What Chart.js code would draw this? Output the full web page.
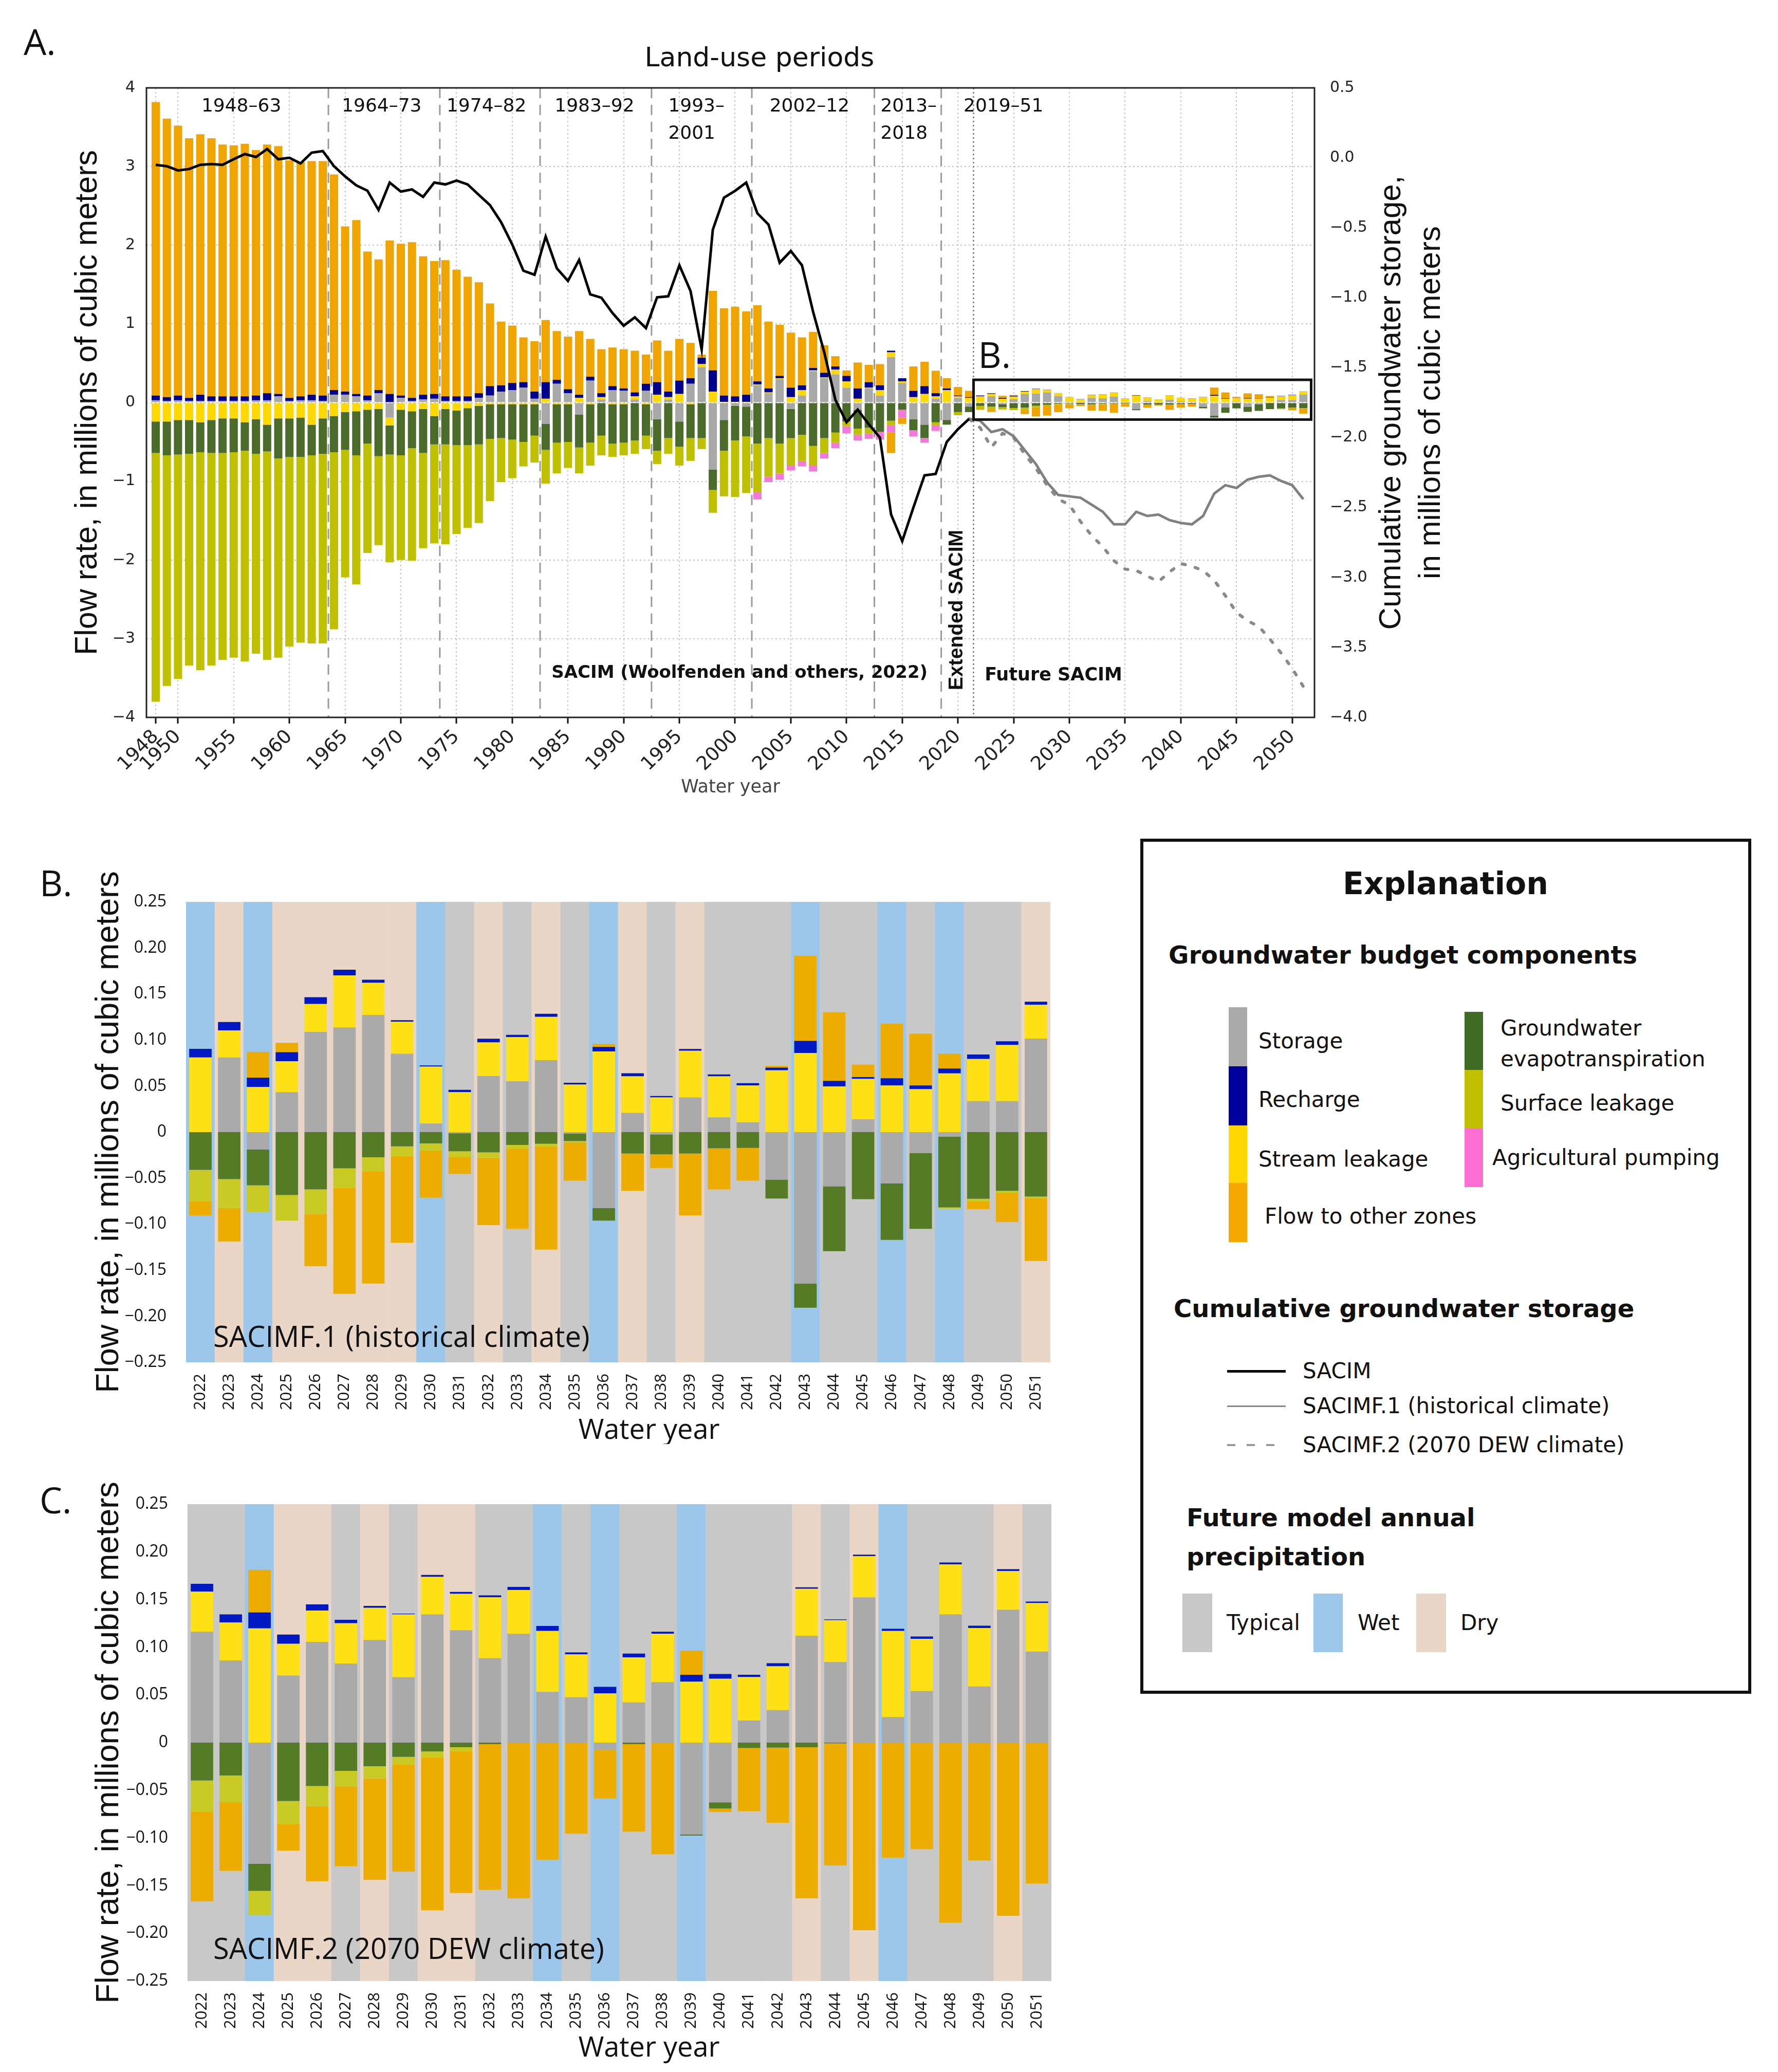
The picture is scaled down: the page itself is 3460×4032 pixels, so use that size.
<!DOCTYPE html>
<html>
<head>
<meta charset="utf-8">
<script src="https://cdn.jsdelivr.net/npm/chart.js@4.4.1/dist/chart.umd.min.js"></script>
<style>
  html, body { margin: 0; padding: 0; background: #fff; }
  #page { position: relative; width: 3460px; height: 4032px; overflow: hidden; background: #fff; }
  .wrap { position: absolute; }
  .letter { position: absolute; font-family: 'Open Sans', sans-serif; font-size: 70px; line-height: 1; color: #111; transform: translateY(-50%); }
  #legendBox { position: absolute; left: 2219px; top: 1632px; width: 1177px; height: 1652px; border: 6px solid #111; }
  .lg { position: absolute; font-family: 'DejaVu Sans', Verdana, sans-serif; font-size: 42px; line-height: 1; color: #111; white-space: nowrap; transform: translateY(-50%); }
  .lg.h { font-weight: bold; font-size: 48px; }
  .sw { position: absolute; }
</style>
</head>
<body>
<div id="page">
  <div class="letter" style="left:46px;top:80px">A.</div>
  <div class="letter" style="left:77px;top:1717px">B.</div>
  <div class="letter" style="left:77px;top:2918px">C.</div>

  <div class="wrap" style="left:0;top:0;width:2900px;height:1560px"><canvas id="chartA"></canvas></div>
  <div class="wrap" style="left:0;top:1640px;width:2100px;height:1170px"><canvas id="chartB"></canvas></div>
  <div class="wrap" style="left:0;top:2820px;width:2100px;height:1200px"><canvas id="chartC"></canvas></div>

  <div id="legendBox"></div>
  <div class="lg" style="left:2813px;top:1719px;font-size:60px;font-weight:bold;transform:translate(-50%,-50%)">Explanation</div>
  <div class="lg h" style="left:2274px;top:1858px">Groundwater budget components</div>

  <div class="sw" style="left:2391px;top:1960px;width:36px;height:115px;background:#aaaaaa"></div>
  <div class="sw" style="left:2391px;top:2075px;width:36px;height:115px;background:#00009c"></div>
  <div class="sw" style="left:2391px;top:2190px;width:36px;height:112px;background:#ffd700"></div>
  <div class="sw" style="left:2391px;top:2302px;width:36px;height:115px;background:#f5a800"></div>
  <div class="lg" style="left:2449px;top:2026px">Storage</div>
  <div class="lg" style="left:2449px;top:2140px">Recharge</div>
  <div class="lg" style="left:2449px;top:2256px">Stream leakage</div>
  <div class="lg" style="left:2461px;top:2367px">Flow to other zones</div>

  <div class="sw" style="left:2850px;top:1969px;width:36px;height:113px;background:#3f6b24"></div>
  <div class="sw" style="left:2850px;top:2082px;width:36px;height:114px;background:#c0c000"></div>
  <div class="sw" style="left:2850px;top:2196px;width:36px;height:114px;background:#ff6ed2"></div>
  <div class="lg" style="left:2920px;top:2001px">Groundwater</div>
  <div class="lg" style="left:2920px;top:2061px">evapotranspiration</div>
  <div class="lg" style="left:2920px;top:2147px">Surface leakage</div>
  <div class="lg" style="left:2904px;top:2253px">Agricultural pumping</div>

  <div class="lg h" style="left:2284px;top:2546px">Cumulative groundwater storage</div>
  <div class="sw" style="left:2388px;top:2666px;width:114px;height:5px;background:#000"></div>
  <div class="sw" style="left:2388px;top:2735px;width:114px;height:3px;background:#888"></div>
  <div class="sw" style="left:2388px;top:2810px;width:114px;height:4px;background:repeating-linear-gradient(90deg,#999 0 16px,transparent 16px 38px)"></div>
  <div class="lg" style="left:2535px;top:2668px">SACIM</div>
  <div class="lg" style="left:2535px;top:2736px">SACIMF.1 (historical climate)</div>
  <div class="lg" style="left:2535px;top:2812px">SACIMF.2 (2070 DEW climate)</div>

  <div class="lg h" style="left:2309px;top:2953px">Future model annual</div>
  <div class="lg h" style="left:2309px;top:3029px">precipitation</div>
  <div class="sw" style="left:2301px;top:3101px;width:58px;height:114px;background:#c8c8c8"></div>
  <div class="sw" style="left:2556px;top:3101px;width:57px;height:114px;background:#9ec8eb"></div>
  <div class="sw" style="left:2756px;top:3101px;width:58px;height:114px;background:#ead6c6"></div>
  <div class="lg" style="left:2387px;top:3158px">Typical</div>
  <div class="lg" style="left:2642px;top:3158px">Wet</div>
  <div class="lg" style="left:2842px;top:3158px">Dry</div>
</div>

<script>
// ---- data: panel A, SACIM 1948-2021 (millions of cubic meters) ----
const histYears = [1948, 1949, 1950, 1951, 1952, 1953, 1954, 1955, 1956, 1957, 1958, 1959, 1960, 1961, 1962, 1963,
  1964, 1965, 1966, 1967, 1968, 1969, 1970, 1971, 1972, 1973,
  1974, 1975, 1976, 1977, 1978, 1979, 1980, 1981, 1982,
  1983, 1984, 1985, 1986, 1987, 1988, 1989, 1990, 1991, 1992,
  1993, 1994, 1995, 1996, 1997, 1998, 1999, 2000, 2001,
  2002, 2003, 2004, 2005, 2006, 2007, 2008, 2009, 2010, 2011, 2012,
  2013, 2014, 2015, 2016, 2017, 2018, 2019, 2020, 2021];

const storageA = [0.03, 0.02, 0.03, 0.02, 0.02, 0.02, 0.02, 0.02, 0.02, 0.03, 0.03, 0.08, 0.02, 0.03, 0.03, 0.02,
  0.10, 0.10, 0.08, 0.03, 0.12, -0.19, 0.06, 0.02, 0.04, 0.05,
  0.02, 0.02, 0.02, 0.06, 0.09, 0.14, 0.16, 0.19, 0.05,
  -0.27, 0.24, 0.12, -0.15, 0.28, 0.04, 0.16, 0.15, 0.04, 0.15,
  -0.21, 0.04, -0.24, 0.24, 0.45, -0.85, -0.22, -0.04, -0.05,
  0.22, 0.12, 0.30, -0.08, 0.09, 0.40, 0.31, 0.36, 0.19, -0.09, 0.18,
  0.09, 0.58, 0.25, -0.21, -0.28, 0.05, -0.22, 0.06, -0.05];
const streamA = [-0.24, -0.24, -0.22, -0.22, -0.25, -0.22, -0.20, -0.20, -0.25, -0.21, -0.28, -0.20, -0.20, -0.19, -0.28, -0.20,
  -0.17, -0.12, -0.11, -0.09, -0.08, -0.10, -0.09, -0.11, -0.08, -0.17,
  -0.08, -0.10, -0.07, -0.04, -0.02, -0.02, -0.02, -0.02, -0.02,
  0.05, -0.02, -0.02, 0.06, -0.02, 0.03, -0.02, -0.02, 0.04, -0.02,
  0.10, 0.03, 0.11, -0.02, 0.04, 0.14, 0.01, 0.01, 0.01,
  0.01, 0.01, 0.01, 0.07, 0.07, 0.01, 0.01, 0.06, 0.08, 0.05, 0.01,
  0.07, 0.06, 0.02, 0.07, 0.11, 0.03, 0.16, 0.02, 0.06];
const rechargeA = [0.06, 0.05, 0.06, 0.04, 0.08, 0.06, 0.06, 0.06, 0.06, 0.06, 0.09, 0.03, 0.04, 0.05, 0.07, 0.07,
  0.06, 0.04, 0.03, 0.06, 0.04, 0.11, 0.03, 0.04, 0.06, 0.06,
  0.06, 0.06, 0.06, 0.06, 0.12, 0.08, 0.09, 0.07, 0.09,
  0.21, 0.05, 0.05, 0.04, 0.05, 0.05, 0.05, 0.03, 0.05, 0.09,
  0.16, 0.07, 0.17, 0.07, 0.08, 0.27, 0.08, 0.07, 0.09,
  0.04, 0.05, 0.03, 0.12, 0.06, 0.03, 0.06, 0.04, 0.07, 0.13, 0.07,
  0.06, 0.02, 0.04, 0.08, 0.10, 0.04, 0.02, 0.01, 0.01];
const gwetA = [-0.40, -0.43, -0.44, -0.43, -0.38, -0.42, -0.44, -0.43, -0.36, -0.44, -0.34, -0.51, -0.49, -0.50, -0.39, -0.45,
  -0.46, -0.48, -0.56, -0.43, -0.60, -0.37, -0.58, -0.47, -0.56, -0.36,
  -0.45, -0.44, -0.47, -0.49, -0.44, -0.43, -0.45, -0.48, -0.40,
  -0.33, -0.49, -0.48, -0.42, -0.49, -0.42, -0.50, -0.49, -0.48, -0.40,
  -0.40, -0.45, -0.32, -0.43, -0.45, -0.26, -0.39, -0.44, -0.38,
  -0.52, -0.45, -0.52, -0.37, -0.41, -0.55, -0.45, -0.38, -0.24, -0.24, -0.32,
  -0.37, -0.23, -0.09, -0.14, -0.17, -0.25, -0.06, -0.12, -0.07];
const surfaceA = [-3.16, -2.93, -2.85, -2.69, -2.77, -2.70, -2.63, -2.61, -2.68, -2.54, -2.65, -2.53, -2.41, -2.36, -2.39, -2.41,
  -2.25, -1.62, -1.64, -1.39, -1.13, -1.37, -1.33, -1.43, -1.21, -1.26,
  -1.27, -1.13, -1.05, -1.00, -0.79, -0.56, -0.49, -0.31, -0.34,
  -0.43, -0.39, -0.33, -0.33, -0.29, -0.25, -0.17, -0.16, -0.17, -0.17,
  -0.17, -0.20, -0.24, -0.29, -0.14, -0.29, -0.58, -0.72, -0.72,
  -0.62, -0.49, -0.38, -0.35, -0.33, -0.25, -0.19, -0.13, -0.06, -0.08, -0.07,
  0, -0.06, 0, 0, 0, -0.04, 0, -0.04, 0];
const agA = [0, 0, 0, 0, 0, 0, 0, 0, 0, 0, 0, 0, 0, 0, 0, 0,
  0, 0, 0, 0, 0, 0, 0, 0, 0, 0,
  0, 0, 0, 0, 0, 0, 0, 0, 0,
  0, 0, 0, 0, 0, 0, 0, 0, 0, 0,
  0, 0, 0, 0, 0, 0, 0, 0, 0,
  -0.09, -0.07, -0.08, -0.06, -0.07, -0.075, -0.07, -0.07, -0.09, -0.07, -0.07,
  -0.10, -0.09, -0.10, -0.08, -0.06, -0.07, 0, 0, 0];
const flowA = [3.73, 3.54, 3.43, 3.30, 3.31, 3.28, 3.20, 3.19, 3.21, 3.12, 3.16, 3.15, 3.02, 2.98, 2.97, 2.98,
  2.74, 2.10, 2.21, 1.83, 1.66, 1.95, 1.93, 1.98, 1.76, 1.69,
  1.73, 1.61, 1.52, 1.41, 1.05, 0.81, 0.73, 0.57, 0.64,
  0.79, 0.62, 0.67, 0.81, 0.48, 0.56, 0.49, 0.50, 0.53, 0.37,
  0.53, 0.52, 0.53, 0.45, 0.04, 1.01, 1.11, 1.14, 1.06,
  0.97, 0.85, 0.65, 0.70, 0.61, 0.46, 0.35, 0.13, 0.07, 0.33, 0.22,
  0.27, -0.26, -0.08, 0.31, 0.31, 0.285, 0.13, 0.11, 0.08];

// cumulative storage, right axis
const sacimLine = [-0.05, -0.06, -0.09, -0.08, -0.05, -0.045, -0.05, -0.01, 0.027, 0.006, 0.063, -0.01, 0.0, -0.04, 0.037, 0.048,
  -0.06, -0.133, -0.197, -0.235, -0.373, -0.177, -0.241, -0.226, -0.279, -0.177,
  -0.19, -0.163, -0.19, -0.265, -0.338, -0.46, -0.62, -0.807, -0.836,
  -0.563, -0.79, -0.88, -0.73, -0.976, -1.0, -1.11, -1.2, -1.14, -1.217,
  -0.997, -0.99, -0.768, -0.952, -1.37, -0.514, -0.285, -0.236, -0.177,
  -0.397, -0.477, -0.75, -0.666, -0.768, -1.1, -1.39, -1.73, -1.89, -1.8, -1.905,
  -2.0, -2.55, -2.74, -2.5, -2.27, -2.26, -2.03, -1.94, -1.866];
const lineYears = [2021, 2022, 2023, 2024, 2025, 2026, 2027, 2028, 2029, 2030, 2031, 2032, 2033, 2034, 2035, 2036,
  2037, 2038, 2039, 2040, 2041, 2042, 2043, 2044, 2045, 2046, 2047, 2048, 2049, 2050, 2051];
const histClimateLine = [-1.866, -1.88, -1.96, -1.94, -1.99, -2.09, -2.19, -2.32, -2.41, -2.42, -2.43, -2.48, -2.53, -2.62, -2.62, -2.53,
  -2.56, -2.55, -2.59, -2.61, -2.62, -2.56, -2.40, -2.34, -2.36, -2.30, -2.28, -2.27, -2.31, -2.34, -2.44];
const dewClimateLine = [-1.866, -1.93, -2.07, -1.97, -2.0, -2.12, -2.22, -2.34, -2.44, -2.48, -2.6, -2.7, -2.78, -2.88, -2.94, -2.95,
  -2.99, -3.03, -2.96, -2.9, -2.92, -2.95, -3.02, -3.13, -3.25, -3.31, -3.35, -3.44, -3.54, -3.65, -3.78];

const aTicks = [1948, 1950, 1955, 1960, 1965, 1970, 1975, 1980, 1985, 1990, 1995, 2000, 2005, 2010, 2015, 2020, 2025, 2030, 2035, 2040, 2045, 2050];
const periodBreaks = [1963.5, 1973.5, 1982.5, 1992.5, 2001.5, 2012.5, 2018.5];
const futureBreak = 2021.4;
const periodLabels = [
  { x: 1952.1, lines: ['1948\u201363'] },
  { x: 1964.7, lines: ['1964\u201373'] },
  { x: 1974.1, lines: ['1974\u201382'] },
  { x: 1983.8, lines: ['1983\u201392'] },
  { x: 1994.0, lines: ['1993\u2013', '2001'] },
  { x: 2003.1, lines: ['2002\u201312'] },
  { x: 2013.05, lines: ['2013\u2013', '2018'] },
  { x: 2020.5, lines: ['2019\u201351'] },
];

// ---- data: panels B and C, 2022-2051 ----
const futureYears = [2022, 2023, 2024, 2025, 2026, 2027, 2028, 2029, 2030, 2031, 2032, 2033, 2034, 2035, 2036,
  2037, 2038, 2039, 2040, 2041, 2042, 2043, 2044, 2045, 2046, 2047, 2048, 2049, 2050, 2051];

const climateB = ['wet', 'dry', 'wet', 'dry', 'dry', 'dry', 'dry', 'dry', 'wet', 'typical', 'dry', 'typical', 'dry', 'typical', 'wet',
  'dry', 'typical', 'dry', 'typical', 'typical', 'typical', 'wet', 'typical', 'typical', 'wet', 'typical', 'wet', 'typical', 'typical', 'dry'];
const storageB = [0, 0.081, -0.0188, 0.0434, 0.1088, 0.1137, 0.1273, 0.0851, 0.0094, -0.0012, 0.061, 0.0552, 0.0781, -0.0016, -0.0826,
  0.0209, -0.0025, 0.0376, 0.016, 0.0106, -0.0516, -0.1645, -0.0589, 0.0139, -0.0556, -0.0229, -0.0049, 0.0336, 0.0336, 0.1015];
const streamB = [0.081, 0.0295, 0.049, 0.0336, 0.0303, 0.0565, 0.0348, 0.0348, 0.0618, 0.0434, 0.0364, 0.0479, 0.0471, 0.0516, 0.0876,
  0.0397, 0.0376, 0.0507, 0.0446, 0.0401, 0.0671, 0.0859, 0.0495, 0.0438, 0.0507, 0.0466, 0.0638, 0.0458, 0.061, 0.0368];
const rechargeB = [0.0094, 0.009, 0.0102, 0.0098, 0.0074, 0.0061, 0.0033, 0.0016, 0.0012, 0.0025, 0.004, 0.0025, 0.0033, 0.002, 0.0049,
  0.0033, 0.0016, 0.002, 0.002, 0.0025, 0.0029, 0.0131, 0.0061, 0.002, 0.0078, 0.0041, 0.0053, 0.0049, 0.0041, 0.0033];
const gwetB = [-0.041, -0.051, -0.039, -0.0683, -0.0622, -0.0393, -0.0274, -0.0155, -0.0123, -0.0196, -0.0221, -0.0139, -0.0127, -0.0082, -0.0135,
  -0.0233, -0.0217, -0.0233, -0.0176, -0.0172, -0.0205, -0.0262, -0.0704, -0.0728, -0.0614, -0.0822, -0.0769, -0.0724, -0.0638, -0.07];
const surfaceB = [-0.034, -0.0315, -0.029, -0.0278, -0.0266, -0.0213, -0.0151, -0.0106, -0.0078, -0.0061, -0.0057, -0.0045, -0.0029, -0.0012, 0,
  0, 0, 0, 0, 0, 0, 0, 0, 0, 0, 0, -0.0016, -0.0029, -0.002, -0.002];
const agB = [0, 0, 0, 0, 0, 0, 0, 0, 0, 0, 0, 0, 0, 0, 0, 0, 0, 0, 0, 0, 0, 0, 0, 0, 0, 0, 0, 0, 0, 0];
const flowB = [-0.0155, -0.0364, 0.028, 0.0102, -0.0569, -0.115, -0.122, -0.0941, -0.0511, -0.0184, -0.0732, -0.0867, -0.1121, -0.0417, 0.0033,
  -0.0405, -0.0147, -0.0671, -0.0446, -0.0356, 0.002, 0.0925, 0.0745, 0.0135, 0.0593, 0.0561, 0.016, -0.0082, -0.0319, -0.0679];

const climateC = ['typical', 'typical', 'wet', 'dry', 'dry', 'typical', 'dry', 'typical', 'dry', 'dry', 'typical', 'typical', 'wet', 'typical', 'wet',
  'typical', 'typical', 'wet', 'typical', 'typical', 'typical', 'dry', 'typical', 'dry', 'wet', 'typical', 'typical', 'typical', 'dry', 'typical'];
const storageC = [0.1162, 0.0861, -0.1271, 0.0703, 0.1056, 0.0829, 0.1076, 0.0686, 0.1344, 0.1178, 0.0885, 0.1141, 0.0532, 0.0475, -0.0073,
  0.0422, 0.0634, -0.0963, -0.0626, 0.0232, 0.0341, 0.1121, 0.0845, 0.1523, 0.0268, 0.054, 0.1344, 0.0589, 0.1393, 0.0955];
const streamC = [0.0422, 0.0398, 0.1198, 0.0333, 0.0329, 0.0422, 0.0337, 0.0658, 0.0394, 0.0382, 0.0638, 0.0459, 0.0638, 0.0451, 0.0516,
  0.0471, 0.0508, 0.0638, 0.067, 0.0455, 0.0459, 0.0491, 0.0439, 0.0431, 0.0902, 0.0548, 0.0524, 0.0613, 0.0406, 0.0508];
const rechargeC = [0.0081, 0.0085, 0.0167, 0.0097, 0.0065, 0.0037, 0.002, 0.0008, 0.002, 0.002, 0.002, 0.0032, 0.0053, 0.002, 0.0069,
  0.0041, 0.002, 0.0073, 0.0049, 0.0024, 0.0032, 0.0016, 0.0008, 0.0016, 0.0024, 0.0024, 0.002, 0.0024, 0.002, 0.0016];
const gwetC = [-0.0398, -0.0345, -0.0284, -0.0613, -0.0455, -0.0297, -0.0248, -0.015, -0.0093, -0.0049, -0.0016, 0, 0, 0, 0,
  -0.0016, 0, -0.0012, -0.0065, -0.0057, -0.0053, -0.0049, -0.0008, 0, 0, 0, 0, 0, 0, 0];
const surfaceC = [-0.0329, -0.028, -0.0252, -0.0244, -0.0211, -0.0162, -0.0126, -0.0081, -0.0061, -0.0041, 0, 0, 0, 0, 0,
  0, 0, 0, 0, 0, 0, 0, 0, 0, 0, 0, 0, 0, 0, 0];
const agC = [0, 0, 0, 0, 0, 0, 0, 0, 0, 0, 0, 0, 0, 0, 0, 0, 0, 0, 0, 0, 0, 0, 0, 0, 0, 0, 0, 0, 0, 0];
const flowC = [-0.0938, -0.0719, 0.0447, -0.0276, -0.0788, -0.0837, -0.1064, -0.1121, -0.1604, -0.1487, -0.1527, -0.1633, -0.1227, -0.0955, -0.0512,
  -0.0918, -0.117, 0.0252, -0.0037, -0.0662, -0.0788, -0.1584, -0.128, -0.1966, -0.1206, -0.1117, -0.1889, -0.1235, -0.1816, -0.1478];

// ---- styles ----
const DV = "'DejaVu Sans', Verdana, sans-serif";
const OS = "'Open Sans', sans-serif";
const LS = "'Liberation Sans', Arial, sans-serif";

const COLORS_A = {
  storage: '#a8a8a8', stream: '#ffd800', recharge: '#00008c', gwet: '#4b6b2a',
  surface: '#bfc000', ag: '#f27ad6', flow: '#f0a400',
};
const COLORS_BC = {
  storage: '#aaaaaa', stream: '#fde016', recharge: '#0019c2', gwet: '#567b27',
  surface: '#c9cb24', ag: '#ff6ecf', flow: '#ecac00',
};
const CLIMATE_COLORS = { typical: '#c8c8c8', wet: '#9dc6eb', dry: '#e9d6c6' };

Chart.defaults.animation = false;
Chart.defaults.plugins.legend.display = false;
Chart.defaults.plugins.tooltip.enabled = false;

const minus = (s) => s.replace('-', '\u2212');

function pts(xs, ys) {
  return xs.map((x, i) => ({ x, y: ys[i] }));
}

// ---- panel A ----
const aYears = histYears.concat(futureYears);

function barA(label, hist, fut, color) {
  return {
    type: 'bar', label,
    data: pts(aYears, hist.concat(fut)),
    backgroundColor: color,
    yAxisID: 'y', stack: 'budget',
    barPercentage: 0.74, categoryPercentage: 1,
    borderWidth: 0, order: 2,
  };
}

const panelAPlugin = {
  id: 'panelA',
  beforeDatasetsDraw(chart) {
    const { ctx, chartArea: a, scales: { x } } = chart;
    ctx.save();
    ctx.strokeStyle = '#9a9a9a';
    ctx.lineWidth = 3;
    ctx.setLineDash([20, 13]);
    periodBreaks.forEach((b) => {
      const px = x.getPixelForValue(b);
      ctx.beginPath(); ctx.moveTo(px, a.top); ctx.lineTo(px, a.bottom); ctx.stroke();
    });
    ctx.strokeStyle = '#777';
    ctx.lineWidth = 2.5;
    ctx.setLineDash([3, 5]);
    const fx = x.getPixelForValue(futureBreak);
    ctx.beginPath(); ctx.moveTo(fx, a.top); ctx.lineTo(fx, a.bottom); ctx.stroke();
    ctx.restore();
  },
  afterDatasetsDraw(chart) {
    const { ctx, chartArea: a, scales: { x, y } } = chart;
    ctx.save();
    ctx.fillStyle = '#111';
    ctx.textBaseline = 'middle';
    ctx.textAlign = 'left';
    ctx.font = `36px ${DV}`;
    periodLabels.forEach((p) => {
      p.lines.forEach((t, i) => ctx.fillText(t, x.getPixelForValue(p.x), a.top + 37 + i * 53));
    });

    ctx.font = `bold 34px ${DV}`;
    ctx.textAlign = 'center';
    ctx.fillText('SACIM (Woolfenden and others, 2022)', x.getPixelForValue(2000.4), a.bottom - 86);
    ctx.textAlign = 'left';
    ctx.font = `bold 35px ${DV}`;
    ctx.fillText('Future SACIM', x.getPixelForValue(2022.4), a.bottom - 81);

    ctx.save();
    ctx.translate(x.getPixelForValue(2019.9), a.bottom - 209);
    ctx.rotate(-Math.PI / 2);
    ctx.textAlign = 'center';
    ctx.font = `bold 39px ${LS}`;
    ctx.fillText('Extended SACIM', 0, 0);
    ctx.restore();

    // zoom box for panel B
    const x0 = x.getPixelForValue(2021.4), x1 = x.getPixelForValue(2051.7);
    const y0 = y.getPixelForValue(0.29), y1 = y.getPixelForValue(-0.215);
    ctx.strokeStyle = '#111';
    ctx.lineWidth = 5;
    ctx.strokeRect(x0, y0, x1 - x0, y1 - y0);
    ctx.font = `70px ${OS}`;
    ctx.textAlign = 'left';
    ctx.fillText('B.', x0 + 9, y0 - 43);
    ctx.restore();
  },
  afterDraw(chart) {
    const { ctx, chartArea: a } = chart;
    ctx.save();
    ctx.strokeStyle = '#222';
    ctx.lineWidth = 3;
    ctx.strokeRect(a.left, a.top, a.right - a.left, a.bottom - a.top);

    ctx.fillStyle = '#111';
    ctx.textBaseline = 'middle';
    ctx.textAlign = 'center';
    ctx.font = `52px ${DV}`;
    ctx.fillText('Land-use periods', a.left + 1193, a.top - 56);

    ctx.font = `60px ${LS}`;
    const cy = (a.top + a.bottom) / 2;
    [['Cumulative groundwater storage,', 150], ['in millions of cubic meters', 227]].forEach(([t, dx]) => {
      ctx.save();
      ctx.translate(a.right + dx, cy);
      ctx.rotate(-Math.PI / 2);
      ctx.fillText(t, 0, 0);
      ctx.restore();
    });
    ctx.restore();
  },
};

new Chart(document.getElementById('chartA'), {
  type: 'bar',
  data: {
    datasets: [
      barA('Storage', storageA, storageB, COLORS_A.storage),
      barA('Stream leakage', streamA, streamB, COLORS_A.stream),
      barA('Recharge', rechargeA, rechargeB, COLORS_A.recharge),
      barA('Groundwater evapotranspiration', gwetA, gwetB, COLORS_A.gwet),
      barA('Surface leakage', surfaceA, surfaceB, COLORS_A.surface),
      barA('Agricultural pumping', agA, agB, COLORS_A.ag),
      barA('Flow to other zones', flowA, flowB, COLORS_A.flow),
      {
        type: 'line', label: 'SACIM', data: pts(histYears, sacimLine), yAxisID: 'y2',
        borderColor: '#000', borderWidth: 5, pointRadius: 0, tension: 0, order: 0,
      },
      {
        type: 'line', label: 'SACIMF.1 (historical climate)', data: pts(lineYears, histClimateLine), yAxisID: 'y2',
        borderColor: '#808080', borderWidth: 5, pointRadius: 0, tension: 0, order: 0,
      },
      {
        type: 'line', label: 'SACIMF.2 (2070 DEW climate)', data: pts(lineYears, dewClimateLine), yAxisID: 'y2',
        borderColor: '#8a8a8a', borderWidth: 6, borderDash: [6, 20], borderCapStyle: 'round',
        pointRadius: 0, tension: 0, order: 0,
      },
    ],
  },
  options: {
    responsive: true,
    maintainAspectRatio: false,
    layout: { padding: { top: 171, left: 0, right: 0, bottom: 0 } },
    scales: {
      x: {
        type: 'linear', min: 1947.17, max: 2052, stacked: true, offset: false,
        afterBuildTicks: (s) => { s.ticks = aTicks.map((v) => ({ value: v })); },
        afterFit: (s) => { s.height = 164; },
        grid: { offset: false, color: '#c4c4c4', lineWidth: 2, drawTicks: true, tickLength: 12, tickColor: '#111', tickWidth: 3 },
        border: { display: false, dash: [3, 5] },
        ticks: {
          autoSkip: false, minRotation: 45, maxRotation: 45, padding: 4,
          color: '#222', font: { family: DV, size: 37 },
          callback: (v) => String(v),
        },
        title: { display: true, text: 'Water year', color: '#444', font: { family: DV, size: 35 }, padding: { top: 0, bottom: 6 } },
      },
      y: {
        min: -4, max: 4, stacked: true,
        afterFit: (s) => { s.width = 285; },
        grid: { color: '#c4c4c4', lineWidth: 2, drawTicks: false },
        border: { display: false, dash: [3, 5] },
        ticks: { stepSize: 1, padding: 22, color: '#222', font: { family: DV, size: 30 }, callback: (v) => minus(String(v)) },
        title: {
          display: true, text: 'Flow rate, in millions of cubic meters', color: '#111',
          font: { family: LS, size: 61 }, padding: { top: 135, bottom: 0 },
        },
      },
      y2: {
        position: 'right', min: -4, max: 0.5,
        afterFit: (s) => { s.width = 342; },
        grid: { display: false },
        border: { display: false },
        ticks: { stepSize: 0.5, padding: 22, color: '#222', font: { family: DV, size: 30 }, callback: (v) => minus(v.toFixed(1)) },
      },
    },
  },
  plugins: [panelAPlugin],
});

// ---- panels B and C ----
function budgetChart(canvasId, climate, comps, scenarioText, geo) {
  const textPlugin = {
    id: 'text_' + canvasId,
    afterDatasetsDraw(chart) {
      const { ctx, chartArea: a } = chart;
      ctx.save();
      ctx.fillStyle = '#111';
      ctx.textBaseline = 'middle';
      ctx.textAlign = 'left';
      ctx.font = `56px ${OS}`;
      ctx.fillText(scenarioText, a.left + geo.textDx, a.bottom - geo.textDy);
      ctx.textAlign = 'center';
      ctx.font = `54px ${OS}`;
      ctx.fillText('Water year', a.left + geo.titleDx, a.bottom + geo.titleDy);
      ctx.restore();
    },
  };
  const bar = (label, vals, color) => ({
    label, data: vals, backgroundColor: color, yAxisID: 'y',
    barPercentage: 0.78, categoryPercentage: 1, borderWidth: 0, order: 1,
  });
  return new Chart(document.getElementById(canvasId), {
    type: 'bar',
    data: {
      labels: futureYears.map(String),
      datasets: [
        {
          label: 'Annual precipitation', data: climate.map(() => [-0.25, 0.25]),
          backgroundColor: climate.map((c) => CLIMATE_COLORS[c]), yAxisID: 'yb',
          barPercentage: 1, categoryPercentage: 1, borderWidth: 0, order: 10,
        },
        bar('Storage', comps.storage, COLORS_BC.storage),
        bar('Stream leakage', comps.stream, COLORS_BC.stream),
        bar('Recharge', comps.recharge, COLORS_BC.recharge),
        bar('Groundwater evapotranspiration', comps.gwet, COLORS_BC.gwet),
        bar('Surface leakage', comps.surface, COLORS_BC.surface),
        bar('Agricultural pumping', comps.ag, COLORS_BC.ag),
        bar('Flow to other zones', comps.flow, COLORS_BC.flow),
      ],
    },
    options: {
      responsive: true,
      maintainAspectRatio: false,
      layout: { padding: { top: geo.padTop, left: 0, right: geo.padRight, bottom: 0 } },
      scales: {
        x: {
          stacked: true,
          afterFit: (s) => { s.height = geo.xHeight; },
          grid: { display: false },
          border: { display: false },
          ticks: { autoSkip: false, minRotation: 90, maxRotation: 90, padding: 14, color: '#111', font: { family: OS, size: 31 } },
        },
        y: {
          stacked: true, min: -0.25, max: 0.25,
          afterFit: (s) => { s.width = geo.yWidth; },
          grid: { display: false },
          border: { display: false },
          ticks: {
            stepSize: 0.05, padding: 30, color: '#111', font: { family: OS, size: 32 },
            callback: (v) => (Math.abs(v) < 1e-9 ? '0' : minus(v.toFixed(2))),
          },
          title: {
            display: true, text: 'Flow rate, in millions of cubic meters', color: '#111',
            font: { family: LS, size: 63 }, padding: { top: 175, bottom: 0 },
          },
        },
        yb: { display: false, min: -0.25, max: 0.25, stacked: false },
      },
    },
    plugins: [textPlugin],
  });
}

budgetChart('chartB', climateB,
  { storage: storageB, stream: streamB, recharge: rechargeB, gwet: gwetB, surface: surfaceB, ag: agB, flow: flowB },
  'SACIMF.1 (historical climate)',
  { padTop: 115, padRight: 56, yWidth: 362, xHeight: 159, textDx: 53, textDy: 46, titleDx: 901, titleDy: 134 });

budgetChart('chartC', climateC,
  { storage: storageC, stream: streamC, recharge: rechargeC, gwet: gwetC, surface: surfaceC, ag: agC, flow: flowC },
  'SACIMF.2 (2070 DEW climate)',
  { padTop: 107, padRight: 54, yWidth: 365, xHeight: 165, textDx: 50, textDy: 59, titleDx: 898, titleDy: 132 });
</script>
</body>
</html>
